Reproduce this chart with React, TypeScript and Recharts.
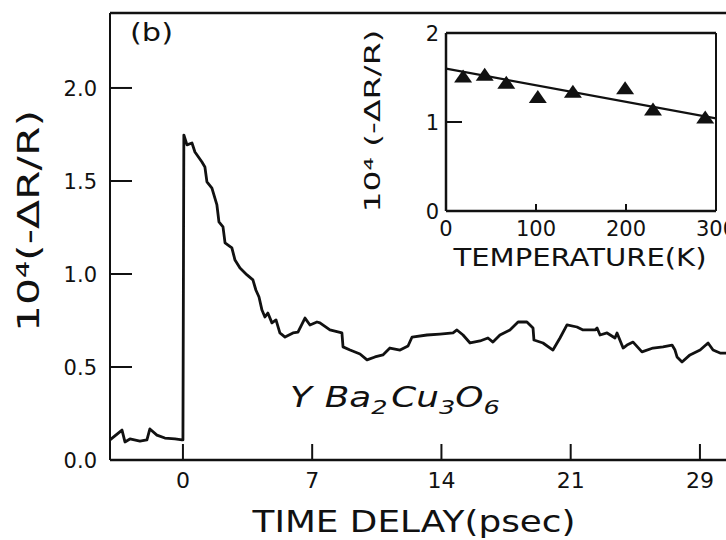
import React from 'react';
import { ComposedChart, Line, Scatter, XAxis, YAxis, ReferenceLine } from 'recharts';

// Main panel: reflectivity change vs time delay
const timePs = [
  -3.95, -3.3, -3.14, -2.87, -2.33, -1.95, -1.79, -1.41, -0.98, -0.43, -0.05, 0.0,
  0.05, 0.22, 0.49, 0.65, 1.03, 1.19, 1.3, 1.57, 1.84, 1.95, 2.17, 2.28, 2.65, 2.82,
  3.09, 3.47, 3.79, 3.95, 4.12, 4.28, 4.44, 4.6, 4.82, 5.04, 5.25, 5.53, 5.96, 6.23,
  6.61, 6.88, 7.26, 7.42, 7.96, 8.61, 8.67, 9.05, 9.59, 9.97, 10.4, 10.83, 11.21,
  11.76, 12.19, 12.41, 13.22, 13.92, 14.63, 14.84, 15.17, 15.55, 16.09, 16.52, 16.79,
  17.17, 17.71, 18.15, 18.63, 18.96, 19.01, 19.5, 20.04, 20.42, 20.8, 21.34, 21.67,
  22.32, 22.43, 22.59, 22.97, 23.4, 23.51, 23.84, 24.05, 24.38, 24.86, 25.46, 26.0,
  26.49, 26.65, 26.76, 27.03, 27.46, 28.01, 28.44, 28.71, 29.09, 29.47,
];
const signal = [
  0.108, 0.161, 0.097, 0.113, 0.102, 0.108, 0.167, 0.134, 0.118, 0.113, 0.108, 0.108,
  1.747, 1.694, 1.704, 1.656, 1.602, 1.575, 1.495, 1.462, 1.371, 1.28, 1.253, 1.167,
  1.14, 1.075, 1.032, 0.995, 0.968, 0.914, 0.876, 0.806, 0.769, 0.79, 0.737, 0.753,
  0.683, 0.661, 0.683, 0.688, 0.763, 0.726, 0.742, 0.737, 0.699, 0.683, 0.608, 0.591,
  0.57, 0.538, 0.554, 0.565, 0.602, 0.591, 0.613, 0.661, 0.672, 0.677, 0.683, 0.699,
  0.672, 0.629, 0.64, 0.656, 0.634, 0.672, 0.699, 0.742, 0.742, 0.71, 0.645, 0.629,
  0.591, 0.656, 0.726, 0.715, 0.699, 0.699, 0.71, 0.672, 0.683, 0.656, 0.683, 0.602,
  0.618, 0.634, 0.581, 0.602, 0.608, 0.618, 0.591, 0.554, 0.527, 0.565, 0.591, 0.629,
  0.591, 0.575, 0.575,
];
const xTicks = [0, 7, 14, 21, 28];
const xTickLabels = ['0', '7', '14', '21', '29'];
const yTicks = [0, 0.5, 1, 1.5, 2];
const yTickLabels = ['0.0', '0.5', '1.0', '1.5', '2.0'];
const xDomain = [-3.95, 30.17];
const yDomain = [0, 2.403];

// Inset: amplitude vs temperature
const tempK = [19, 43, 67, 102, 141, 199, 230, 288];
const amplitude = [1.51, 1.53, 1.44, 1.28, 1.34, 1.38, 1.14, 1.05];
const fitTemp = [0, 300];
const fitAmp = [1.6, 1.04];
const insetXTicks = [0, 100, 200, 300];
const insetXTickLabels = ['0', '100', '200', '300'];
const insetYTicks = [0, 1, 2];
const insetYTickLabels = ['0', '1', '2'];

const FONT = 'DejaVu Sans';
const INK = '#111';

const mainData = timePs.map((t, i) => ({ t, v: signal[i] }));
const insetPoints = tempK.map((T, i) => ({ T, a: amplitude[i] }));
const fitData = fitTemp.map((T, i) => ({ T, a: fitAmp[i] }));

const MainXTick = (props: any) => {
  const { x, y, payload, index } = props;
  return (
    <g>
      <line x1={x} y1={y} x2={x} y2={y - 16} stroke={INK} strokeWidth={2} />
      <text x={x} y={y + 28} textAnchor="middle" fontFamily={FONT} fontSize={22} fill={INK}>
        {xTickLabels[xTicks.indexOf(payload.value)] ?? xTickLabels[index]}
      </text>
    </g>
  );
};

const MainYTick = (props: any) => {
  const { x, y, payload, index } = props;
  return (
    <g>
      <line x1={x} y1={y} x2={x + 22} y2={y} stroke={INK} strokeWidth={2} />
      <text x={x - 13} y={y + 8} textAnchor="end" fontFamily={FONT} fontSize={21} fill={INK}>
        {yTickLabels[yTicks.indexOf(payload.value)] ?? yTickLabels[index]}
      </text>
    </g>
  );
};

const InsetXTick = (props: any) => {
  const { x, y, payload, index } = props;
  return (
    <g>
      <line x1={x} y1={y} x2={x} y2={y - 7} stroke={INK} strokeWidth={2} />
      <text x={x} y={y + 25} textAnchor="middle" fontFamily={FONT} fontSize={21} fill={INK}>
        {insetXTickLabels[insetXTicks.indexOf(payload.value)] ?? insetXTickLabels[index]}
      </text>
    </g>
  );
};

const InsetYTick = (props: any) => {
  const { x, y, payload, index } = props;
  return (
    <g>
      <line x1={x} y1={y} x2={x + 16} y2={y} stroke={INK} strokeWidth={2} />
      <text x={x - 7} y={y + 8} textAnchor="end" fontFamily={FONT} fontSize={21} fill={INK}>
        {insetYTickLabels[insetYTicks.indexOf(payload.value)] ?? insetYTickLabels[index]}
      </text>
    </g>
  );
};

const Triangle = (props: any) => {
  const { cx, cy } = props;
  if (cx == null || cy == null) return null;
  return <path d={`M${cx},${cy - 7} L${cx + 9},${cy + 6} L${cx - 9},${cy + 6} Z`} fill={INK} />;
};

export default function App() {
  return (
    <div
      style={{
        position: 'fixed',
        left: 0,
        top: 0,
        width: 726,
        height: 540,
        overflow: 'hidden',
        background: '#fff',
      }}
    >
      <div style={{ position: 'absolute', left: 0, top: 0 }}>
        <ComposedChart
          width={740}
          height={540}
          data={mainData}
          margin={{ top: 13, right: 0, bottom: 0, left: 0 }}
        >
          <XAxis
            dataKey="t"
            type="number"
            domain={xDomain}
            ticks={xTicks}
            allowDataOverflow
            height={80}
            axisLine={{ stroke: INK, strokeWidth: 2.5 }}
            tickLine={false}
            tickSize={0}
            tickMargin={0}
            tick={<MainXTick />}
            interval={0}
          />
          <YAxis
            type="number"
            domain={yDomain}
            ticks={yTicks}
            allowDataOverflow
            width={110}
            axisLine={{ stroke: INK, strokeWidth: 2 }}
            tickLine={false}
            tickSize={0}
            tickMargin={0}
            tick={<MainYTick />}
            interval={0}
          />
          <ReferenceLine y={yDomain[1]} stroke={INK} strokeWidth={2.5} />
          <Line
            dataKey="v"
            type="linear"
            stroke={INK}
            strokeWidth={2.8}
            strokeLinejoin="round"
            dot={false}
            isAnimationActive={false}
          />
        </ComposedChart>
      </div>

      <div style={{ position: 'absolute', left: 360, top: 20 }}>
        <ComposedChart width={366} height={260} margin={{ top: 13, right: 10, bottom: 0, left: 0 }}>
          <XAxis
            dataKey="T"
            type="number"
            domain={[0, 300]}
            ticks={insetXTicks}
            allowDataOverflow
            height={69}
            axisLine={{ stroke: INK, strokeWidth: 2.5 }}
            tickLine={false}
            tickSize={0}
            tickMargin={0}
            tick={<InsetXTick />}
            interval={0}
          />
          <YAxis
            dataKey="a"
            type="number"
            domain={[0, 2]}
            ticks={insetYTicks}
            allowDataOverflow
            width={86}
            axisLine={{ stroke: INK, strokeWidth: 2.5 }}
            tickLine={false}
            tickSize={0}
            tickMargin={0}
            tick={<InsetYTick />}
            interval={0}
          />
          <ReferenceLine y={2} stroke={INK} strokeWidth={2.5} />
          <ReferenceLine x={300} stroke={INK} strokeWidth={2} />
          <Line
            data={fitData}
            dataKey="a"
            type="linear"
            stroke={INK}
            strokeWidth={2.2}
            dot={false}
            isAnimationActive={false}
          />
          <Scatter data={insetPoints} dataKey="a" shape={<Triangle />} isAnimationActive={false} />
        </ComposedChart>
      </div>

      <svg
        width={726}
        height={540}
        style={{ position: 'absolute', left: 0, top: 0, pointerEvents: 'none' }}
      >
        <text x={130} y={41} fontFamily={FONT} fontSize={24} fill={INK} textLength={43} lengthAdjust="spacingAndGlyphs">
          (b)
        </text>
        <text
          x={0}
          y={0}
          transform="translate(39,221) rotate(-90)"
          textAnchor="middle"
          fontFamily={FONT}
          fontSize={31}
          fill={INK}
          textLength={222}
          lengthAdjust="spacingAndGlyphs"
        >
          10⁴(-ΔR/R)
        </text>
        <text
          x={414}
          y={532}
          textAnchor="middle"
          fontFamily={FONT}
          fontSize={30}
          fill={INK}
          textLength={323}
          lengthAdjust="spacingAndGlyphs"
        >
          TIME DELAY(psec)
        </text>
        <g transform="translate(290,407) scale(1.28,1)">
          <text x={0} y={0} fontFamily={FONT} fontSize={28} fontStyle="italic" fill={INK}>
            Y
            <tspan dx={10}>Ba</tspan>
            <tspan fontSize={20} dy={7}>2</tspan>
            <tspan dy={-7} dx={3}>Cu</tspan>
            <tspan fontSize={20} dy={7}>3</tspan>
            <tspan dy={-7}>O</tspan>
            <tspan fontSize={20} dy={7}>6</tspan>
          </text>
        </g>
        <text
          x={0}
          y={0}
          transform="translate(380,121) rotate(-90)"
          textAnchor="middle"
          fontFamily={FONT}
          fontSize={22}
          fill={INK}
          textLength={183}
          lengthAdjust="spacingAndGlyphs"
        >
          10⁴ (-ΔR/R)
        </text>
        <text
          x={580}
          y={266}
          textAnchor="middle"
          fontFamily={FONT}
          fontSize={24}
          fill={INK}
          textLength={253}
          lengthAdjust="spacingAndGlyphs"
        >
          TEMPERATURE(K)
        </text>
      </svg>
    </div>
  );
}
